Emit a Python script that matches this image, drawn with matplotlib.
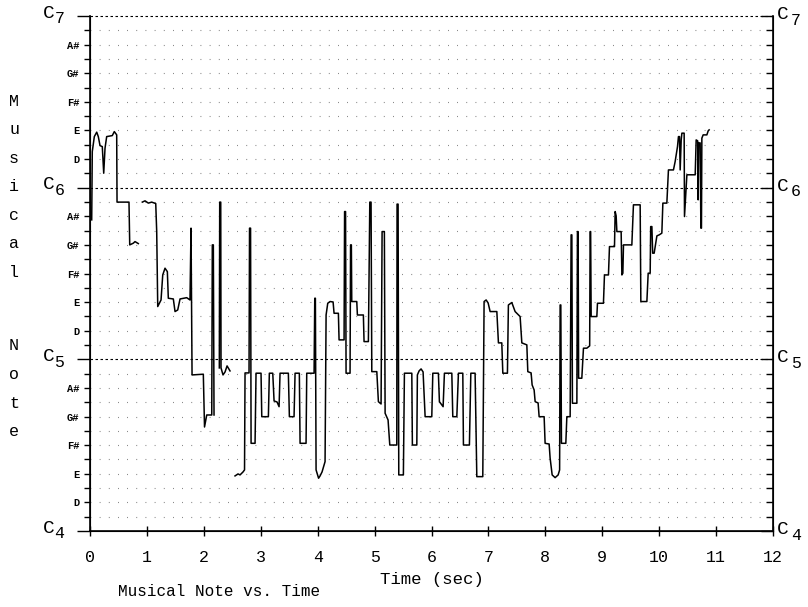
import numpy as np
import matplotlib
matplotlib.use("Agg")
import matplotlib.pyplot as plt
from matplotlib.ticker import FixedLocator, FixedFormatter

nan = np.nan

# pitch trace: time (sec) and note (semitones above C4), nan = unvoiced gap
pitch_t = [
    0.030, 0.040, 0.076, 0.118, 0.146, 0.176, 0.216, 0.241, 0.264, 0.293, 0.392, 0.427, 0.469,
    0.475, 0.685, 0.698, 0.761, 0.791, 0.849, nan,
    0.919, 0.967, 1.025, 1.084, 1.155, 1.172, 1.190, 1.248, 1.278, 1.318, 1.359, 1.376, 1.464,
    1.494, 1.541, 1.582, 1.699, 1.757, 1.775, 1.793, 1.991, 2.012, 2.051, 2.139, 2.149, 2.167,
    2.179, nan,
    2.272, 2.279, 2.297, 2.302, 2.337, 2.373, 2.408, 2.460, nan,
    2.548, 2.601, 2.636, 2.689, 2.715, 2.724, 2.794, 2.803, 2.821, 2.830, 2.900, 2.917, 3.005,
    3.018, 3.134, 3.151, 3.211, 3.234, 3.286, 3.322, 3.339, 3.485, 3.503, 3.585, 3.603, 3.678,
    3.691, 3.796, 3.808, 3.937, 3.949, 3.960, 3.972, 4.016, 4.042, 4.077, 4.130, 4.148, 4.177,
    4.218, 4.271, 4.288, 4.364, 4.376, 4.464, 4.473, 4.490, 4.499, 4.569, 4.578, 4.592, 4.599,
    4.687, 4.698, 4.803, 4.815, 4.891, 4.916, 4.938, 4.951, 5.039, 5.067, 5.114, 5.132, 5.172,
    5.185, 5.237, 5.267, 5.390, 5.395, 5.413, 5.425, 5.506, 5.524, 5.654, 5.664, 5.742, 5.752,
    5.782, 5.817, 5.852, 5.888, 6.005, 6.023, 6.121, 6.139, 6.204, 6.227, 6.357, 6.374, 6.445,
    6.473, 6.550, 6.561, 6.666, 6.691, 6.766, 6.796, 6.901, 6.924, 6.960, 6.995, 7.030, 7.148,
    7.176, 7.235, 7.253, 7.334, 7.351, 7.411, 7.469, 7.557, 7.587, 7.675, 7.692, 7.750, 7.768,
    7.803, 7.821, 7.873, 7.891, 7.979, 7.996, 8.067, 8.084, 8.120, 8.172, 8.225, 8.251, 8.260,
    8.272, 8.283, 8.360, 8.378, 8.436, 8.453, 8.466, 8.476, 8.554, 8.564, 8.576, 8.585, 8.641,
    8.670, 8.729, 8.779, 8.787, 8.796, 8.805, 8.905, 8.916, 9.021, 9.039, 9.109, 9.127, 9.215,
    9.227, 9.244, 9.257, 9.332, 9.345, 9.362, 9.373, 9.520, 9.548, 9.666, 9.678, 9.784, 9.807,
    9.842, 9.851, 9.872, 9.886, 9.912, 9.960, 10.000, 10.047, 10.065, 10.135, 10.146, 10.163,
    10.251, 10.281, 10.322, 10.339, 10.357, 10.369, 10.387, 10.399, 10.439, 10.445, 10.487,
    10.633, 10.650, 10.677, 10.685, 10.694, 10.720, 10.733, 10.743, 10.750, 10.773, 10.838,
    10.861, 10.878,
]
pitch_note = [
    21.75, 26.52, 27.57, 27.88, 27.57, 26.94, 26.87, 25.01, 26.76, 27.57, 27.64, 27.92, 27.69,
    22.99, 22.99, 20.00, 20.12, 20.23, 20.09, nan,
    22.99, 23.08, 22.92, 22.99, 22.89, 20.93, 15.69, 16.15, 17.90, 18.37, 18.13, 16.27, 16.22,
    15.34, 15.45, 16.22, 16.31, 16.15, 21.17, 10.91, 10.96, 7.27, 8.11, 8.11, 20.00, 20.00,
    8.11, nan,
    11.40, 22.99, 22.99, 11.40, 10.91, 11.12, 11.54, 11.19, nan,
    3.85, 3.99, 3.92, 4.13, 4.27, 11.05, 11.05, 21.17, 21.17, 6.13, 6.13, 11.03, 11.03,
    7.99, 7.99, 11.03, 11.03, 9.09, 9.02, 8.69, 11.03, 11.03, 7.99, 7.99, 11.03, 11.03,
    6.13, 6.13, 11.03, 11.03, 16.27, 16.27, 4.27, 3.69, 3.85, 4.13, 4.85, 15.10, 15.92,
    16.04, 16.01, 15.22, 15.22, 13.36, 13.36, 22.33, 22.33, 11.03, 11.03, 20.00, 20.00, 16.04,
    16.04, 15.10, 15.10, 13.24, 13.24, 22.99, 22.99, 11.14, 11.14, 9.04, 8.88, 20.93, 20.93,
    8.23, 7.76, 6.01, 6.01, 22.85, 22.85, 3.92, 3.92, 11.03, 11.03, 6.01, 6.01, 10.91,
    11.19, 11.33, 11.12, 7.99, 7.99, 11.03, 11.03, 9.04, 8.69, 11.03, 11.03, 7.99, 7.99,
    11.03, 11.03, 6.01, 6.01, 11.03, 11.03, 3.80, 3.80, 16.04, 16.15, 15.94, 15.34, 15.34,
    13.15, 13.15, 11.03, 11.03, 15.80, 15.97, 15.34, 14.99, 13.15, 13.01, 11.14, 11.05, 10.21,
    9.86, 9.04, 8.95, 7.99, 7.99, 6.13, 6.08, 5.10, 3.92, 3.73, 3.92, 4.27, 15.80,
    15.80, 6.13, 6.13, 7.99, 7.99, 20.70, 20.70, 8.93, 8.93, 20.93, 20.93, 10.68, 10.68,
    12.78, 12.78, 12.94, 20.93, 20.93, 14.99, 14.99, 15.92, 15.92, 17.90, 17.90, 19.88, 19.88,
    22.33, 22.03, 20.93, 20.93, 17.90, 18.02, 20.00, 20.00, 22.80, 22.80, 16.04, 16.04, 18.02,
    18.02, 21.28, 21.28, 19.42, 19.42, 20.63, 20.70, 20.82, 22.92, 22.92, 23.85, 25.24,
    25.24, 25.83, 26.87, 27.57, 27.57, 25.24, 27.34, 27.81, 27.81, 21.98, 24.90,
    24.90, 27.34, 27.27, 23.15, 27.13, 27.13, 21.17, 21.17, 27.46, 27.69, 27.69,
    27.97, 28.04,
]

x_ticks = list(range(13))
octave_pos = [0, 12, 24, 36]
octave_num = ["4", "5", "6", "7"]
note_names = {2: "D", 4: "E", 6: "F#", 8: "G#", 10: "A#"}
ylabel_words = ["Musical", "Note"]

plt.rcParams["font.family"] = ["Liberation Mono", "DejaVu Sans Mono"]
plt.rcParams["lines.scale_dashes"] = False

fig = plt.figure(figsize=(8.08, 6.07), dpi=100)
ax = fig.add_axes([90 / 808, 76 / 607, 683 / 808, 515 / 607])

# semitone rows (sparse dots) and octave rows (dashes)
for s in range(1, 36):
    if s % 12:
        ax.axhline(s, color="0.45", lw=0.8, ls=(0, (0.6, 6.0)), zorder=0)
for s in octave_pos[1:]:
    ax.axhline(s, color="black", lw=0.8, ls=(0, (1.8, 1.8)), zorder=1, clip_on=False)

ax.plot(pitch_t, pitch_note, color="black", lw=1.1, zorder=3)

ax.set_xlim(0, 12)
ax.set_ylim(0, 36)
ax.spines["top"].set_visible(False)
for side in ["left", "right", "bottom"]:
    ax.spines[side].set_linewidth(1.2)

ax.set_xticks(x_ticks)
ax.tick_params(axis="x", direction="inout", length=7, width=1, labelsize=12, pad=10)
ax.set_xlabel("Time (sec)", fontsize=12.5, labelpad=5)

minor = [s for s in range(36) if s % 12]
ax.yaxis.set_major_locator(FixedLocator(octave_pos))
ax.yaxis.set_major_formatter(FixedFormatter([""] * 4))
ax.yaxis.set_minor_locator(FixedLocator(minor))
ax.yaxis.set_minor_formatter(FixedFormatter([note_names.get(s % 12, "") for s in minor]))
ax.tick_params(axis="y", which="major", direction="out", length=9.5, width=1)
ax.tick_params(axis="y", which="minor", direction="out", length=4.5, width=1,
               labelsize=7.5, pad=3)
for lab in ax.yaxis.get_minorticklabels():
    lab.set_fontweight("bold")

# right side: inward ticks
ax2 = ax.twinx()
ax2.set_ylim(0, 36)
ax2.spines["top"].set_visible(False)
ax2.yaxis.set_major_locator(FixedLocator(octave_pos))
ax2.yaxis.set_minor_locator(FixedLocator(minor))
ax2.tick_params(axis="y", which="major", direction="in", length=9, width=1, labelright=False)
ax2.tick_params(axis="y", which="minor", direction="in", length=5, width=1)

# C labels with lowered octave digits on both sides
for s, d in zip(octave_pos, octave_num):
    ax.annotate("C", xy=(0, s), xycoords=("axes fraction", "data"), xytext=(-30, 2),
                textcoords="offset points", ha="center", va="center", fontsize=14)
    ax.annotate(d, xy=(0, s), xycoords=("axes fraction", "data"), xytext=(-22, -2),
                textcoords="offset points", ha="center", va="center", fontsize=12)
    ax.annotate("C", xy=(1, s), xycoords=("axes fraction", "data"), xytext=(7.2, 1),
                textcoords="offset points", ha="center", va="center", fontsize=14)
    ax.annotate(d, xy=(1, s), xycoords=("axes fraction", "data"), xytext=(16.5, -3),
                textcoords="offset points", ha="center", va="center", fontsize=12)

# stacked vertical axis title
starts = [101, 346]
for word, y0 in zip(ylabel_words, starts):
    for i, ch in enumerate(word):
        fig.text(14 / 808, 1 - (y0 + i * 28.6) / 607, ch, ha="center", va="center", fontsize=12)

fig.text(118 / 808, 1 - 592 / 607, "Musical Note vs. Time", ha="left", va="center", fontsize=11.5)

fig.savefig("out.png", dpi=100)
